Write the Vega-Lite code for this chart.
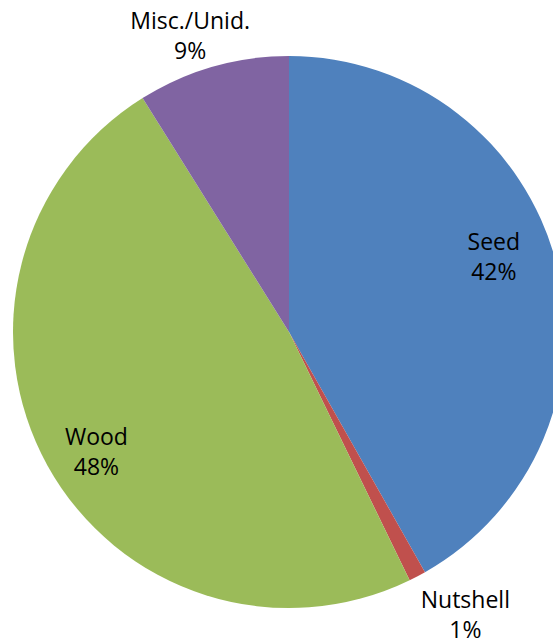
{
  "$schema": "https://vega.github.io/schema/vega-lite/v6.json",
  "autosize": "none",
  "padding": 0,
  "width": 578,
  "height": 664,
  "background": "white",
  "view": {"stroke": null},
  "data": {"values": [
    {"cat": "Seed", "value": 41.8},
    {"cat": "Nutshell", "value": 1.0},
    {"cat": "Wood", "value": 48.3},
    {"cat": "Misc./Unid.", "value": 8.9}
  ]},
  "transform": [
    {"window": [{"op": "row_number", "as": "k"}]},
    {"stack": "value", "groupby": [], "sort": [{"field": "k", "order": "ascending"}], "as": ["v0", "v1"]},
    {"calculate": "(datum.v0 + datum.v1) / 2", "as": "mid"},
    {"calculate": "[datum.cat, format(datum.value / 100, '.0%')]", "as": "label"}
  ],
  "encoding": {
    "theta": {"field": "v0", "type": "quantitative", "scale": {"domain": [0, 100]}},
    "theta2": {"field": "v1"}
  },
  "layer": [
    {
      "mark": {"type": "arc", "outerRadius": 276},
      "encoding": {
        "color": {"field": "cat", "type": "nominal", "legend": null,
          "scale": {"domain": ["Seed", "Nutshell", "Wood", "Misc./Unid."], "range": ["#4F81BD", "#C0504D", "#9BBB59", "#8064A2"]}}
      }
    },
    {
      "transform": [{"filter": "datum.cat == 'Seed'"}],
      "mark": {"type": "text", "radius": 218, "dx": -6, "dy": -33, "font": "Open Sans", "fontSize": 23, "lineHeight": 30, "color": "#000000", "align": "center", "baseline": "middle"},
      "encoding": {"theta": {"field": "mid", "type": "quantitative"}, "theta2": null, "text": {"field": "label"}}
    },
    {
      "transform": [{"filter": "datum.cat == 'Wood'"}],
      "mark": {"type": "text", "radius": 227, "dx": 6, "dy": -4, "font": "Open Sans", "fontSize": 23, "lineHeight": 30, "color": "#000000", "align": "center", "baseline": "middle"},
      "encoding": {"theta": {"field": "mid", "type": "quantitative"}, "theta2": null, "text": {"field": "label"}}
    },
    {
      "transform": [{"filter": "datum.cat == 'Misc./Unid.'"}],
      "mark": {"type": "text", "radius": 311, "dx": -13, "dy": -11, "font": "Open Sans", "fontSize": 23, "lineHeight": 30, "color": "#000000", "align": "center", "baseline": "middle"},
      "encoding": {"theta": {"field": "mid", "type": "quantitative"}, "theta2": null, "text": {"field": "label"}}
    },
    {
      "transform": [{"filter": "datum.cat == 'Nutshell'"}],
      "mark": {"type": "text", "radius": 334, "dx": 21, "dy": -27, "font": "Open Sans", "fontSize": 23, "lineHeight": 30, "color": "#000000", "align": "center", "baseline": "middle"},
      "encoding": {"theta": {"field": "mid", "type": "quantitative"}, "theta2": null, "text": {"field": "label"}}
    }
  ]
}
